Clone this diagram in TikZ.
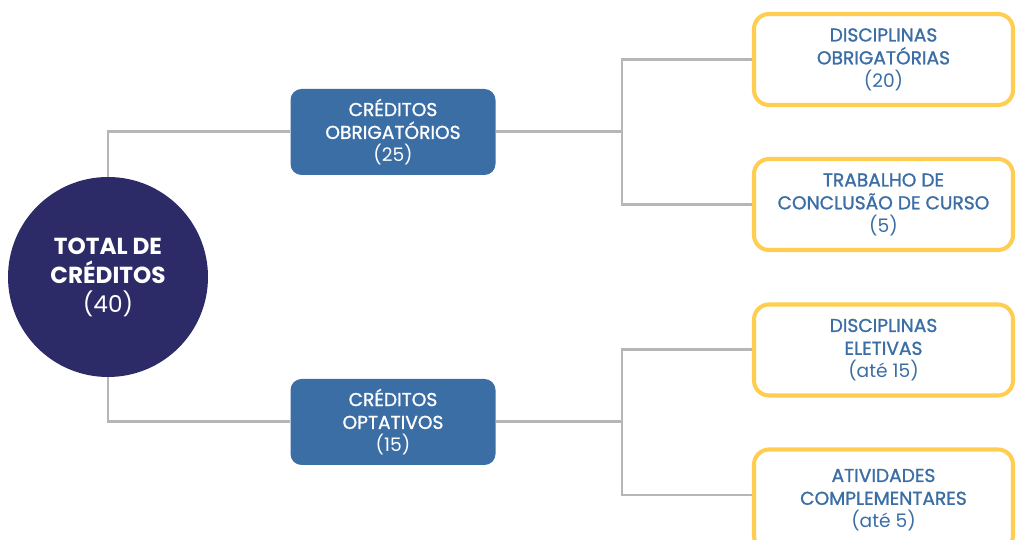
\documentclass[tikz,border=0pt]{standalone}
\usepackage{fontspec}
\setmainfont{Poppins}
\newfontfamily\medfont[FakeBold=1.2]{Poppins}
\definecolor{totalc}{RGB}{45,42,104}
\definecolor{credc}{RGB}{58,110,165}
\definecolor{itemc}{RGB}{255,205,79}
\definecolor{linkc}{RGB}{180,182,184}

\begin{document}
\begin{tikzpicture}[x=1cm,y=1cm,line cap=butt,line join=miter]
\tikzset{total/.style={circle,fill=totalc,minimum size=4cm,inner sep=0pt,text=white,align=center,font=\fontsize{13.2}{16.5}\selectfont},
  cred/.style={rounded corners=0.22cm,fill=credc,minimum width=4.1cm,minimum height=1.72cm,text=white,align=center,font=\fontsize{10.6}{13}\selectfont},
  item/.style={rounded corners=0.3cm,draw=itemc,line width=2.3pt,fill=white,minimum width=5.18cm,minimum height=1.82cm,text=credc,align=center,font=\fontsize{10.6}{13}\selectfont},
  link/.style={draw=linkc,line width=1.7pt}}
\useasboundingbox (0,0) rectangle (20.34,10.8);

\node[total] (tot) at (2.16,5.26) {\textbf{TOTAL DE}\\\textbf{CRÉDITOS}\\(40)};
\node[cred] (ob) at (7.86,8.16) {{\medfont CRÉDITOS}\\{\medfont OBRIGATÓRIOS}\\(25)};
\node[cred] (op) at (7.86,2.36) {{\medfont CRÉDITOS}\\{\medfont OPTATIVOS}\\(15)};
\node[item] (disob) at (17.67,9.61) {{\medfont DISCIPLINAS}\\{\medfont OBRIGATÓRIAS}\\(20)};
\node[item] (tcc) at (17.67,6.71) {{\medfont TRABALHO DE}\\{\medfont CONCLUSÃO DE CURSO}\\(5)};
\node[item] (disel) at (17.67,3.80) {{\medfont DISCIPLINAS}\\{\medfont ELETIVAS}\\(até 15)};
\node[item,minimum height=2.02cm] (ativ) at (17.67,0.80) {{\medfont ATIVIDADES}\\{\medfont COMPLEMENTARES}\\(até 5)};

\coordinate (jup) at (12.44,8.16);
\coordinate (jdn) at (12.44,2.36);
\coordinate (jat) at (12.44,0.9);
\draw[link] (tot.north) |- (ob.west);
\draw[link] (tot.south) |- (op.west);
\draw[link] (ob.east) -- (jup);
\draw[link] (jup) |- (disob.west);
\draw[link] (jup) |- (tcc.west);
\draw[link] (op.east) -- (jdn);
\draw[link] (jdn) |- (disel.west);
\draw[link] (jdn) -- (jat) -- (jat -| ativ.west);
\end{tikzpicture}
\end{document}
